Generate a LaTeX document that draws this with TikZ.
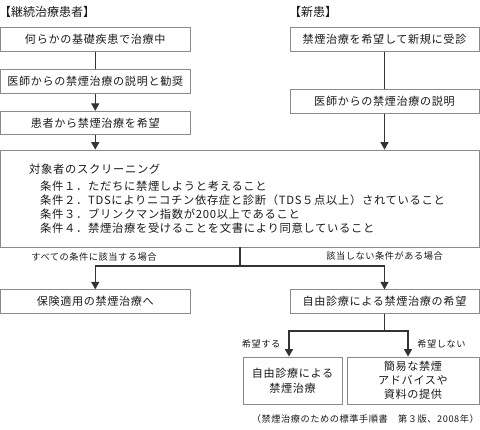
\documentclass[tikz,border=0pt]{standalone}
\usepackage{fontspec}
\usetikzlibrary{arrows.meta,calc}
\newfontfamily\jp[LetterSpace=6]{Noto Sans CJK JP}
\newfontfamily\jpn{Noto Sans CJK JP}
\definecolor{boxgray}{HTML}{8A8A8A}
\definecolor{linegray}{HTML}{333333}
\definecolor{txt}{HTML}{1A1A1A}
\begin{document}
\begin{tikzpicture}[x=1pt,y=-1pt,
  box/.style={draw=boxgray,line width=0.8pt,minimum height=23.5pt,inner sep=0pt,text=txt,font=\jp\fontsize{11.1}{12}\selectfont,align=center},
  conn/.style={draw=linegray,line width=1.3pt},
  arr/.style={conn,-{Triangle[width=8pt,length=7.5pt]}},
  lbl/.style={inner sep=0pt,text=txt,font=\jp\fontsize{9.2}{10}\selectfont},
  scr/.style={inner sep=0pt,anchor=west,text=txt,font=\jp\fontsize{11.3}{12}\selectfont},
  hdr/.style={inner sep=0pt,anchor=west,text=txt,font=\jpn\fontsize{12}{14}\selectfont}]
\useasboundingbox (0,0) rectangle (480,430);
% headers
\node[hdr] (hL) at (-1,12) {【継続治療患者】};
\node[hdr] (hR) at (289,12) {【新患】};
% left column
\node[box,minimum width=189.5pt] (L1) at (95.25,39.5) {何らかの基礎疾患で治療中};
\node[box,minimum width=189.5pt] (L2) at (95.25,81.5) {医師からの禁煙治療の説明と勧奨};
\node[box,minimum width=189.5pt] (L3) at (95.25,123) {患者から禁煙治療を希望};
% right column
\node[box,minimum width=189pt] (R1) at (384.5,39.5) {禁煙治療を希望して新規に受診};
\node[box,minimum width=189pt] (R2) at (384.5,101.5) {医師からの禁煙治療の説明};
% screening
\node[box,minimum width=478.5pt,minimum height=97pt] (S) at (239.75,198.5) {};
\node[scr] (s0) at (29,169) {対象者のスクリーニング};
\node[scr] (s1) at (40,186) {条件１．ただちに禁煙しようと考えること};
\node[scr] (s2) at (40,200) {条件２．TDSによりニコチン依存症と診断（TDS５点以上）されていること};
\node[scr] (s3) at (40,214) {条件３．ブリンクマン指数が200以上であること};
\node[scr] (s4) at (40,228) {条件４．禁煙治療を受けることを文書により同意していること};
% outcomes
\node[box,minimum width=189.5pt] (B1) at (95.25,301.5) {保険適用の禁煙治療へ};
\node[box,minimum width=189pt] (B2) at (384.5,301.5) {自由診療による禁煙治療の希望};
\node[box,minimum width=99pt,minimum height=47pt,font=\jp\fontsize{11.1}{15}\selectfont] (C1) at (292.5,380.5) {自由診療による\\禁煙治療};
\node[box,minimum width=132pt,minimum height=47pt,font=\jp\fontsize{11.1}{14}\selectfont] (C2) at (413,380.5) {簡易な禁煙\\アドバイスや\\資料の提供};
% labels
\node[lbl] (la) at (94,257) {すべての条件に該当する場合};
\node[lbl] (lb) at (384.5,256) {該当しない条件がある場合};
\node[lbl] (lc) at (261,344) {希望する};
\node[lbl] (ld) at (441.5,344) {希望しない};
\node[lbl,anchor=east] (cap) at (479,419) {（禁煙治療のための標準手順書　第３版、2008年）};
% connectors
\draw[conn] (L1.south) -- (L2.north);
\draw[arr] (L2.south) -- (L3.north);
\draw[arr] (L3.south) -- (L3.south |- S.north);
\draw[conn] (R1.south) -- (R2.north);
\draw[arr] (R2.south) -- (R2.south |- S.north);
\coordinate (J) at (240,266);
\draw[conn] (J |- S.south) -- (J);
\draw[arr] (J) -| (B1.north);
\draw[arr] (J) -| (B2.north);
\coordinate (K) at (385,331);
\draw[conn] (B2.south) -- (B2.south |- K);
\draw[arr] (B2.south |- K) -| ([xshift=-3.5pt]C1.north);
\draw[arr] (B2.south |- K) -| ([xshift=-5pt]C2.north);
\end{tikzpicture}
\end{document}
